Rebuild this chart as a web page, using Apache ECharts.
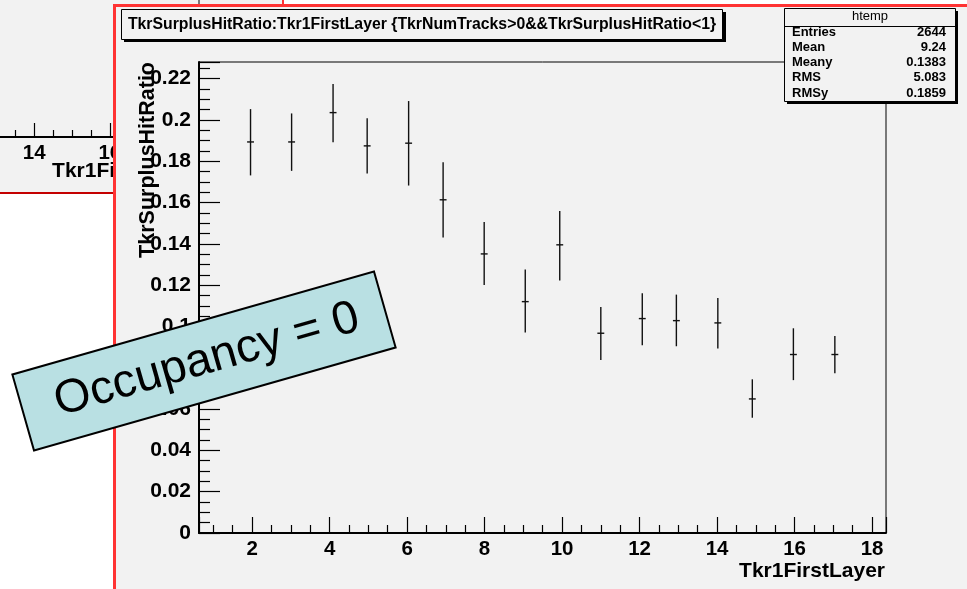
<!DOCTYPE html>
<html>
<head>
<meta charset="utf-8">
<title>TkrSurplusHitRatio vs Tkr1FirstLayer</title>
<script src="https://cdn.jsdelivr.net/npm/echarts@6/dist/echarts.min.js"></script>
<style>
    html, body { margin: 0; padding: 0; background: #fff; }
    #chart { width: 967px; height: 589px; }
</style>
</head>
<body>
<div id="chart"></div>
<script>
    // profile bins (bin centres as drawn) and their mean / error range
    var layerCenters = [1.96, 3.02, 4.09, 4.97, 6.04, 6.93, 7.99, 9.05, 9.94, 11.0, 12.07, 12.95, 14.02, 14.91, 15.97, 17.04];
    var hitRatio  = [0.1893, 0.1893, 0.2035, 0.1874, 0.1887, 0.1613, 0.1351, 0.1120, 0.1395, 0.0967, 0.1038, 0.1028, 0.1017, 0.0649, 0.0864, 0.0864];
    var ratioHigh = [0.2052, 0.2031, 0.2173, 0.2008, 0.2091, 0.1795, 0.1505, 0.1275, 0.1559, 0.1094, 0.1161, 0.1154, 0.1138, 0.0744, 0.0991, 0.0954];
    var ratioLow  = [0.1731, 0.1753, 0.1892, 0.1740, 0.1682, 0.1430, 0.1200, 0.0970, 0.1222, 0.0838, 0.0909, 0.0904, 0.0893, 0.0558, 0.0740, 0.0773];
    var binHalfWidth = 0.089;

    var xRange = [0.63, 18.36];
    var yRange = [0, 0.228];

    var plotTitle = 'TkrSurplusHitRatio:Tkr1FirstLayer {TkrNumTracks>0&&TkrSurplusHitRatio<1}';
    var statNames = ['Entries', 'Mean', 'Meany', 'RMS', 'RMSy'];
    var statValues = ['2644', '9.24', '0.1383', '5.083', '0.1859'];
    var noteText = 'Occupancy = 0';

    var FONT = '"Liberation Sans", Arial, Helvetica, sans-serif';
    var PAD = '#f2f2f2';

    var chart = echarts.init(document.getElementById('chart'), null, { renderer: 'canvas' });

    var points = layerCenters.map(function (x, i) {
        return [x, hitRatio[i], ratioLow[i], ratioHigh[i]];
    });

    // ROOT style: bold labels, ticks pointing into the frame
    function rootXAxis(gridIndex, z, major, minor, namePad) {
        return {
            type: 'value',
            gridIndex: gridIndex,
            z: z,
            min: xRange[0],
            max: xRange[1],
            splitNumber: 9,
            name: 'Tkr1FirstLayer',
            nameLocation: 'end',
            nameGap: -1,
            nameMoveOverlap: false,
            nameTextStyle: {
                align: 'right', verticalAlign: 'top', padding: [namePad, 0, 0, 0],
                fontFamily: FONT, fontWeight: 'bold', fontSize: 21, color: '#000'
            },
            axisLine: { show: true, onZero: false, lineStyle: { color: '#000', width: 2 } },
            axisTick: { show: true, inside: true, length: major, lineStyle: { color: '#000', width: 1.2 } },
            minorTick: { show: true, splitNumber: 4, length: minor, lineStyle: { color: '#000', width: 1.2 } },
            axisLabel: {
                show: true, margin: 6, showMinLabel: false, showMaxLabel: false,
                fontFamily: FONT, fontWeight: 'bold', fontSize: 20.5, color: '#000'
            },
            splitLine: { show: false },
            minorSplitLine: { show: false }
        };
    }

    // graphic children do not inherit z from their group
    function withZ(z, items) {
        return items.map(function (it) { it.z = z; return it; });
    }

    var statsChildren = [
        { type: 'rect', shape: { x: 3, y: 3, width: 171, height: 93 }, style: { fill: '#000' } },
        { type: 'rect', shape: { x: 0.5, y: 0.5, width: 171, height: 93 }, style: { fill: PAD, stroke: '#000', lineWidth: 1 } },
        { type: 'line', shape: { x1: 0, y1: 18.5, x2: 171, y2: 18.5 }, style: { stroke: '#000', lineWidth: 1 } },
        {
            type: 'text', x: 86, y: 8,
            style: { text: 'htemp', align: 'center', verticalAlign: 'middle', font: '13px ' + FONT, fill: '#000' }
        }
    ].concat(statNames.map(function (name, i) {
        return {
            type: 'text', x: 8, y: 24 + i * 15.3,
            style: { text: name, align: 'left', verticalAlign: 'middle', font: 'bold 13px ' + FONT, fill: '#000' }
        };
    })).concat(statValues.map(function (val, i) {
        return {
            type: 'text', x: 162, y: 24 + i * 15.3,
            style: { text: val, align: 'right', verticalAlign: 'middle', font: 'bold 13px ' + FONT, fill: '#000' }
        };
    }));

    var option = {
        backgroundColor: '#fff',
        animation: false,
        grid: [
            {
                left: 199, top: 62, width: 687, height: 471,
                z: 3, show: true, backgroundColor: 'transparent',
                borderColor: '#000', borderWidth: 1,
                outerBoundsMode: 'none', containLabel: false
            },
            {
                // the pad behind, only its right corner is visible
                left: -471, width: 670, top: -300, bottom: 452,
                z: 0, show: true, backgroundColor: 'transparent',
                borderColor: '#000', borderWidth: 1,
                outerBoundsMode: 'none', containLabel: false
            }
        ],
        xAxis: [
            rootXAxis(0, 4, 16, 8, 28),
            rootXAxis(1, 1, 14, 7, 24)
        ],
        yAxis: [
            {
                type: 'value',
                gridIndex: 0,
                z: 4,
                min: yRange[0],
                max: yRange[1],
                interval: 0.02,
                name: 'TkrSurplusHitRatio',
                nameLocation: 'end',
                nameGap: 0,
                nameRotate: 90,
                nameMoveOverlap: false,
                nameTextStyle: {
                    align: 'right', verticalAlign: 'bottom', padding: [0, 0, 40, 0],
                    fontFamily: FONT, fontWeight: 'bold', fontSize: 21.5, color: '#000'
                },
                axisLine: { show: true, onZero: false, lineStyle: { color: '#000', width: 2 } },
                axisTick: { show: true, inside: true, length: 21, lineStyle: { color: '#000', width: 1.2 } },
                minorTick: { show: true, splitNumber: 4, length: 11, lineStyle: { color: '#000', width: 1.2 } },
                axisLabel: {
                    show: true, margin: 8, showMaxLabel: false,
                    fontFamily: FONT, fontWeight: 'bold', fontSize: 21, color: '#000'
                },
                splitLine: { show: false },
                minorSplitLine: { show: false }
            },
            {
                type: 'value', gridIndex: 1, show: false, min: 0, max: 1
            }
        ],
        series: [
            {
                type: 'custom',
                xAxisIndex: 0,
                yAxisIndex: 0,
                z: 5,
                data: points,
                encode: { x: 0, y: [1, 2, 3] },
                renderItem: function (params, api) {
                    var x = api.value(0);
                    var y = api.value(1);
                    var top = api.coord([x, api.value(3)]);
                    var bot = api.coord([x, api.value(2)]);
                    var l = api.coord([x - binHalfWidth, y]);
                    var r = api.coord([x + binHalfWidth, y]);
                    var st = { stroke: '#111', lineWidth: 1.4 };
                    return {
                        type: 'group',
                        children: [
                            { type: 'line', shape: { x1: top[0], y1: top[1], x2: bot[0], y2: bot[1] }, style: st },
                            { type: 'line', shape: { x1: l[0], y1: l[1], x2: r[0], y2: r[1] }, style: st }
                        ]
                    };
                }
            }
        ],
        graphic: [
            // left pad (behind)
            { type: 'rect', z: -1, shape: { x: 0, y: 0, width: 283, height: 193 }, style: { fill: PAD } },
            { type: 'line', z: 1, shape: { x1: 283, y1: 0, x2: 283, y2: 193 }, style: { stroke: '#ff3333', lineWidth: 2 } },
            { type: 'line', z: 1, shape: { x1: 0, y1: 193, x2: 283, y2: 193 }, style: { stroke: '#c40000', lineWidth: 2 } },
            // main pad with red border
            {
                type: 'rect', z: 2,
                shape: { x: 114.5, y: 5.5, width: 900, height: 700 },
                style: { fill: PAD, stroke: '#ff3333', lineWidth: 3 }
            },
            // title box
            { type: 'rect', z: 10, shape: { x: 124, y: 12, width: 602, height: 30 }, style: { fill: '#000' } },
            { type: 'rect', z: 10, shape: { x: 121.5, y: 9.5, width: 601, height: 30 }, style: { fill: PAD, stroke: '#000', lineWidth: 1 } },
            {
                type: 'text', z: 11, x: 422, y: 25,
                style: {
                    text: plotTitle, align: 'center', verticalAlign: 'middle',
                    font: 'bold 15.8px ' + FONT, fill: '#000'
                }
            },
            // stats box
            { type: 'group', x: 784, y: 8, children: withZ(10, statsChildren) },
            // pasted note on the slide
            {
                type: 'group', x: 204, y: 361, rotation: 15.9 * Math.PI / 180,
                children: withZ(12, [
                    {
                        type: 'rect', shape: { x: -188, y: -39.5, width: 376, height: 79 },
                        style: { fill: '#b9e0e3', stroke: '#000', lineWidth: 2 }
                    },
                    {
                        type: 'text', x: 3, y: 0,
                        style: { text: noteText, align: 'center', verticalAlign: 'middle', font: '47px ' + FONT, fill: '#000' }
                    }
                ])
            }
        ]
    };

    chart.setOption(option);
</script>
</body>
</html>
